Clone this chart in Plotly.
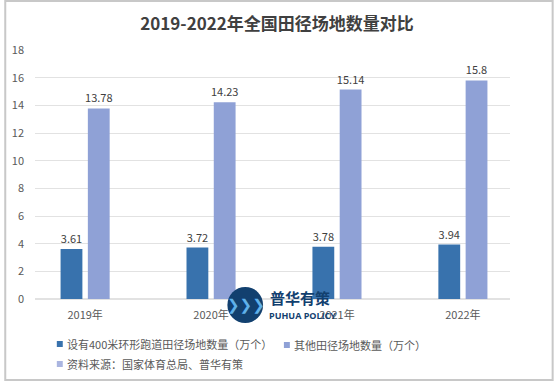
import plotly.graph_objects as go

years = ["2019年", "2020年", "2021年", "2022年"]
track400 = [3.61, 3.72, 3.78, 3.94]
other = [13.78, 14.23, 15.14, 15.8]
name1 = "设有400米环形跑道田径场地数量（万个）"
name2 = "其他田径场地数量（万个）"
source = "资料来源：国家体育总局、普华有策"
title = "2019-2022年全国田径场地数量对比"
y_ticks = [0, 2, 4, 6, 8, 10, 12, 14, 16, 18]

FONT = "Noto Sans CJK SC"
W, H = 554, 381
ML, MR, MT, MB = 31, 44, 50, 82
pw = W - ML - MR
ph = H - MT - MB

C1 = "#3872ad"
C2 = "#8fa1d6"
C3 = "#aab5e0"
TXT = "#595959"

fig = go.Figure()
fig.add_trace(go.Bar(
    x=years, y=track400, name=name1,
    marker=dict(color=C1, line=dict(width=0)),
    text=[f"{v:g}" for v in track400], textposition="outside", constraintext="none",
    textfont=dict(size=11, color="#404040", family=FONT),
    cliponaxis=False, showlegend=False,
))
fig.add_trace(go.Bar(
    x=years, y=other, name=name2,
    marker=dict(color=C2, line=dict(width=0)),
    text=[f"{v:g}" for v in other], textposition="outside", constraintext="none",
    textfont=dict(size=11, color="#404040", family=FONT),
    cliponaxis=False, showlegend=False,
))

fig.update_layout(
    width=W, height=H,
    margin=dict(l=ML, r=MR, t=MT, b=MB),
    paper_bgcolor="white", plot_bgcolor="white",
    font=dict(family=FONT, color=TXT, size=11),
    title=dict(text=f"<b>{title}</b>", x=0.5, xanchor="center", y=1 - 24 / H, yanchor="middle",
               font=dict(size=17, color="#404040", family=FONT)),
    barmode="group", bargap=0.567, bargroupgap=0.2,
    xaxis=dict(showgrid=False, showline=False, ticks="", range=[-0.398, 3.374],
               tickfont=dict(size=11, color=TXT), ticklabelstandoff=8),
    yaxis=dict(range=[0, 18], tickvals=y_ticks, showgrid=True, gridcolor="#e2e2e2", gridwidth=1,
               zeroline=True, zerolinecolor="#e2e2e2", ticks="", tickfont=dict(size=11, color=TXT),
               ticklabelstandoff=10),
    showlegend=False,
)


def px(x):
    return (x - ML) / pw


def py(y):
    return (H - MB - y) / ph


# Border around the whole image
fig.add_shape(type="rect", xref="paper", yref="paper",
              x0=px(1), x1=px(W - 1), y0=py(H - 1), y1=py(1),
              line=dict(color="#c8c8c8", width=2), fillcolor="rgba(0,0,0,0)", layer="above")

# Legend (swatches + real text)
legend_items = [
    (53, 344, C1, name1),
    (282, 345, C2, name2),
    (53, 364, C3, source),
]
for sx, sy, col, label in legend_items:
    fig.add_shape(type="rect", xref="paper", yref="paper",
                  x0=px(sx), x1=px(sx + 6), y0=py(sy + 3), y1=py(sy - 3),
                  fillcolor=col, line=dict(width=0), layer="above")
    fig.add_annotation(x=px(sx + 8), y=py(sy), xref="paper", yref="paper", text=label,
                       showarrow=False, font=dict(size=11, color=TXT, family=FONT),
                       xanchor="left", yanchor="middle")

# Watermark logo
cx, cy, r = 243, 305, 18
fig.add_shape(type="circle", xref="paper", yref="paper",
              x0=px(cx - r), x1=px(cx + r), y0=py(cy + r), y1=py(cy - r),
              fillcolor="#12406f", line=dict(width=0), layer="above")
fig.add_annotation(x=px(cx + 1), y=py(cy), xref="paper", yref="paper", text="<b>❯❯❯</b>",
                   showarrow=False, font=dict(size=15, color="#5fb0ea", family="DejaVu Sans"),
                   xanchor="center", yanchor="middle")
fig.add_annotation(x=px(266), y=py(297), xref="paper", yref="paper", text="<b>普华有策</b>",
                   showarrow=False, font=dict(size=15, color="#12406f", family=FONT),
                   xanchor="left", yanchor="middle")
fig.add_annotation(x=px(265), y=py(315), xref="paper", yref="paper", text="<b>PUHUA POLICY</b>",
                   showarrow=False, font=dict(size=9, color="#12406f", family="Open Sans"),
                   xanchor="left", yanchor="middle")

fig.write_html("out.html", config={"displayModeBar": False},
               post_script="document.body.style.margin='0';document.body.style.overflow='hidden';")
